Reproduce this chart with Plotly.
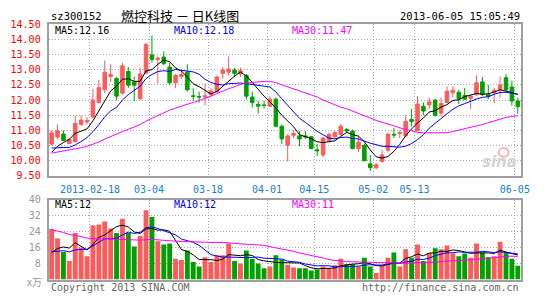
import plotly.graph_objects as go
import pandas as pd

W, H = 545, 300

# ---------------- data ----------------
tick_idx = [7, 17, 27, 37, 45, 55, 62, 79]
tick_text = ["2013-02-18", "03-04", "03-18", "04-01", "04-15", "05-02", "05-13", "06-05"]

opens = [10.55, 10.78, 10.88, 10.57, 10.63, 11.20, 11.28, 11.44, 11.92, 12.34,
         12.78, 12.71, 12.23, 12.94, 12.60, 12.04, 12.88, 13.49, 13.34, 13.42,
         13.09, 12.57, 12.78, 12.92, 12.14, 12.12, 12.10, 12.18, 12.28, 12.88,
         12.92, 12.99, 12.86, 12.81, 12.10, 11.86, 11.84, 11.80, 12.03, 11.14,
         10.51, 10.84, 10.82, 10.82, 10.79, 10.36, 10.19, 10.66, 10.79, 10.87,
         11.03, 10.98, 10.40, 10.51, 9.90, 9.77, 9.98, 10.35, 10.87, 10.90,
         10.82, 11.36, 10.99, 11.80, 11.84, 12.00, 11.57, 11.92, 12.24, 12.26,
         12.15, 12.06, 12.18, 12.60, 12.18, 12.24, 12.34, 12.74, 12.43, 11.97]
highs = [11.00, 11.20, 11.00, 10.75, 11.49, 11.49, 11.44, 12.37, 12.67, 13.30,
         13.18, 12.76, 13.23, 13.09, 12.78, 13.07, 13.90, 14.13, 13.44, 13.60,
         13.23, 12.86, 13.02, 13.18, 12.39, 12.28, 12.55, 12.39, 12.81, 13.09,
         13.44, 13.07, 13.07, 12.86, 12.28, 11.97, 11.98, 12.13, 12.08, 11.19,
         10.87, 11.00, 10.98, 10.98, 10.82, 10.56, 10.77, 10.93, 10.98, 11.21,
         11.08, 11.03, 10.82, 10.56, 10.19, 9.93, 10.35, 10.93, 11.08, 11.00,
         11.50, 11.71, 12.13, 11.92, 12.08, 12.03, 12.08, 12.45, 12.45, 12.34,
         12.40, 12.18, 12.82, 12.76, 12.50, 12.40, 12.78, 12.85, 12.64, 12.08]
lows = [10.50, 10.70, 10.64, 10.55, 10.60, 11.15, 11.20, 11.40, 11.88, 12.23,
        12.60, 11.99, 12.18, 12.40, 11.97, 12.00, 12.85, 13.23, 12.55, 13.15,
        12.50, 12.39, 12.70, 12.28, 11.97, 11.92, 11.83, 12.13, 12.23, 12.70,
        12.81, 12.76, 12.76, 12.02, 11.76, 11.55, 11.72, 11.77, 11.10, 10.54,
        9.98, 10.75, 10.48, 10.72, 10.38, 10.16, 10.12, 10.61, 10.71, 10.82,
        10.93, 10.38, 10.29, 9.98, 9.66, 9.72, 9.94, 10.29, 10.75, 10.75,
        10.77, 11.13, 10.97, 11.50, 11.71, 11.45, 11.45, 11.90, 12.08, 11.87,
        12.00, 11.71, 12.13, 12.13, 12.03, 11.90, 12.08, 12.29, 11.82, 11.55]
closes = [10.92, 10.99, 10.67, 10.70, 11.23, 11.34, 11.32, 12.00, 12.41, 12.92,
          12.84, 12.13, 13.13, 12.49, 12.49, 12.86, 13.83, 13.34, 13.38, 13.20,
          12.57, 12.81, 12.84, 12.34, 12.12, 12.10, 12.14, 12.30, 12.76, 12.99,
          13.02, 12.88, 12.97, 12.13, 11.92, 11.80, 11.82, 12.03, 11.14, 10.72,
          10.82, 10.90, 10.72, 10.79, 10.40, 10.33, 10.75, 10.87, 10.93, 11.14,
          10.98, 10.40, 10.61, 10.00, 9.77, 9.87, 10.19, 10.87, 10.85, 10.93,
          11.30, 11.29, 11.87, 11.64, 11.94, 11.50, 11.89, 12.29, 12.32, 12.05,
          12.03, 12.13, 12.57, 12.18, 12.13, 12.32, 12.50, 12.34, 11.97, 11.78]
volumes = [25.3, 20.5, 13.8, 9.3, 23.3, 16.0, 11.7, 27.2, 27.6, 29.1,
           25.6, 23.3, 30.4, 23.3, 16.6, 21.8, 34.7, 31.3, 19.2, 17.6,
           18.1, 10.4, 9.8, 14.6, 8.8, 6.6, 11.2, 8.8, 12.2, 12.2,
           18.1, 9.3, 8.0, 14.6, 10.4, 8.0, 5.7, 6.5, 12.2, 10.1,
           7.4, 6.1, 5.7, 5.7, 4.5, 5.0, 6.6, 5.7, 7.2, 10.4,
           7.7, 7.7, 6.6, 10.9, 6.6, 3.3, 6.9, 10.9, 13.6, 6.6,
           15.2, 10.9, 17.6, 9.3, 13.3, 15.7, 15.2, 17.0, 13.0, 11.7,
           13.0, 10.9, 18.1, 13.6, 11.2, 11.7, 18.9, 13.6, 10.4, 6.9]
# sessions before the visible window (only feed the moving averages)
prior_closes = [9.95, 9.90, 9.85, 9.90, 10.00, 9.95, 10.05, 10.10, 10.00, 10.15,
                10.25, 10.30, 10.20, 10.35, 10.40, 10.30, 10.45, 10.50, 10.40, 10.35,
                10.80, 10.70, 10.66, 10.40, 10.24, 10.00, 10.06, 10.15, 10.27]
prior_volumes = [38, 35, 40, 33, 36, 37, 38, 28, 26, 29,
                 25, 28, 30, 27, 24, 28, 26, 27, 25, 27,
                 16, 13, 15, 14, 13, 11, 10, 12, 10]

price_ticks = [9.5, 10.0, 10.5, 11.0, 11.5, 12.0, 12.5, 13.0, 13.5, 14.0, 14.5]
vol_ticks = [8, 16, 24, 32, 40]
price_ma_labels = ["MA5:12.16", "MA10:12.18", "MA30:11.47"]
vol_ma_labels = ["MA5:12", "MA10:12", "MA30:11"]
ma_windows = [5, 10, 30]

# ---------------- styling ----------------
RED = "#ff5a5a"
GREEN = "#00a000"
MA_COLORS = ["#000000", "#0000ff", "#ff00ff"]
MONO = "DejaVu Sans Mono"
GRID = "#aaaaaa"
FRAME = "#a0a0a0"

def px(x):
    return x / W

def py(y):
    return 1 - y / H

n = len(closes)
xs = list(range(n))
npre = len(prior_closes)

fig = go.Figure()
fig.add_trace(go.Candlestick(
    x=xs, open=opens, high=highs, low=lows, close=closes,
    xaxis="x", yaxis="y", whiskerwidth=0,
    increasing=dict(line=dict(color=RED, width=1), fillcolor=RED),
    decreasing=dict(line=dict(color=GREEN, width=1), fillcolor=GREEN),
    showlegend=False, hoverinfo="skip"))

cs = pd.Series(prior_closes + closes)
vs = pd.Series(prior_volumes + volumes)
for w, col in zip(ma_windows, MA_COLORS):
    ma = cs.rolling(w).mean().iloc[npre:].tolist()
    fig.add_trace(go.Scatter(x=xs, y=ma, mode="lines", xaxis="x", yaxis="y",
                             line=dict(color=col, width=1), showlegend=False,
                             hoverinfo="skip"))

bar_colors = [RED if c >= o else GREEN for o, c in zip(opens, closes)]
fig.add_trace(go.Bar(x=xs, y=volumes, xaxis="x2", yaxis="y2", width=0.82,
                     marker=dict(color=bar_colors, line=dict(width=0)),
                     showlegend=False, hoverinfo="skip"))
for w, col in zip(ma_windows, MA_COLORS):
    ma = vs.rolling(w).mean().iloc[npre:].tolist()
    fig.add_trace(go.Scatter(x=xs, y=ma, mode="lines", xaxis="x2", yaxis="y2",
                             line=dict(color=col, width=1), showlegend=False,
                             hoverinfo="skip"))

xdom = [px(49.5), px(529.5)]
gridvals = [i - 0.5 for i in tick_idx]
common_x = dict(domain=xdom, range=[-0.5, n - 0.5], tickvals=gridvals,
                showgrid=True, gridcolor=GRID, griddash="1px,2px", gridwidth=1,
                showline=True, mirror=True, linecolor=FRAME, linewidth=2,
                zeroline=False, ticks="", fixedrange=True)

fig.update_layout(
    width=W, height=H, margin=dict(l=0, r=0, t=0, b=0),
    paper_bgcolor="white", plot_bgcolor="white", boxgap=0.15,
    xaxis=dict(**common_x, anchor="y", ticktext=tick_text,
               tickfont=dict(family=MONO, size=10, color="#1a80d0"),
               ticklabelstandoff=3, rangeslider=dict(visible=False)),
    yaxis=dict(domain=[py(177), py(19)], range=[9.5, 14.5], anchor="x",
               tickvals=price_ticks, ticktext=["%.2f" % v for v in price_ticks],
               tickfont=dict(family=MONO, size=10, color="#ff0000"),
               showgrid=True, gridcolor=GRID, griddash="1px,2px", gridwidth=1,
               showline=True, mirror=True, linecolor=FRAME, linewidth=2,
               zeroline=False, ticks="", ticklabelstandoff=4, fixedrange=True),
    xaxis2=dict(**common_x, anchor="y2", showticklabels=False),
    yaxis2=dict(domain=[py(285), py(201.7)], range=[0, 40], anchor="x2",
                tickvals=vol_ticks, ticktext=[str(v) for v in vol_ticks],
                tickfont=dict(family=MONO, size=10, color="#999999"),
                showgrid=True, gridcolor=GRID, griddash="1px,2px", gridwidth=1,
                showline=True, mirror=True, linecolor=FRAME, linewidth=2,
                zeroline=False, ticks="", ticklabelstandoff=4, fixedrange=True),
)

ann = []
def text(x, y, s, color="#000000", size=10, family=MONO, xanchor="left", **kw):
    ann.append(dict(x=px(x), y=py(y), xref="paper", yref="paper", text=s,
                    showarrow=False, xanchor=xanchor, yanchor="middle",
                    font=dict(family=family, size=size, color=color), **kw))

text(50, 10, "sz300152", size=10.5)
text(121, 10, "燃控科技 － 日K线图", size=13, family="Noto Sans CJK SC")
text(531, 10, "2013-06-05 15:05:49", size=10.5, xanchor="right")
for xpos, s, col in zip([54, 175, 295], price_ma_labels, MA_COLORS):
    text(xpos, 25, s, color=col)
for xpos, s, col in zip([54, 175, 295], vol_ma_labels, MA_COLORS):
    text(xpos, 207, s, color=col)
text(45, 287, "x万", color="#999999", size=10, family="Noto Sans CJK SC", xanchor="right")
text(50, 293, "Copyright 2013 SINA.COM", color="#666666")
text(530, 293, "http://finance.sina.com.cn", color="#666666", xanchor="right")
ann.append(dict(x=px(528), y=py(163), xref="paper", yref="paper", text="sina",
                showarrow=False, xanchor="right", yanchor="middle",
                font=dict(family="DejaVu Sans", size=15, color="#d4d4d4",
                          weight="bold", style="italic")))
fig.update_layout(annotations=ann)
fig.add_shape(type="circle", xref="paper", yref="paper",
              x0=px(507), x1=px(517), y0=py(157), y1=py(148),
              line=dict(color="#f4b8b8", width=2))

fig.write_html("out.html")
